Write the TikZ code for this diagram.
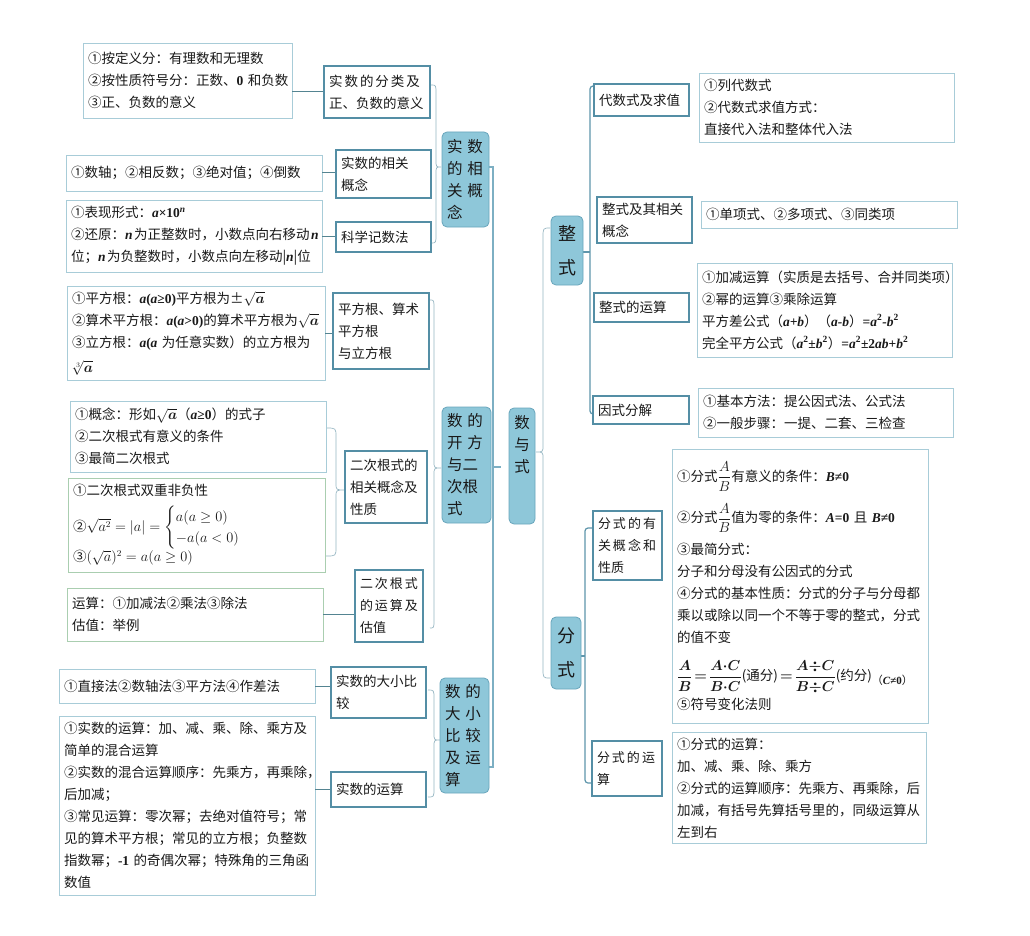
\documentclass[tikz,border=0pt]{standalone}
\usepackage{amsmath}
\usepackage[no-math]{fontspec}
\setmainfont{Noto Sans CJK SC}
\newfontfamily\tnr{Liberation Serif}
\newcommand\bi[1]{{\tnr\bfseries\itshape #1}}
\newcommand\bn[1]{{\tnr\bfseries #1}}
\newcommand\xg{\kern2pt\relax}
\newcommand\wg{\kern5pt\relax}
\newcommand\nsp{\kern1.5pt\relax}
\definecolor{catf}{RGB}{142,199,217}
\definecolor{catd}{RGB}{105,165,188}
\definecolor{subc}{RGB}{84,142,165}
\definecolor{leafc}{RGB}{168,204,216}
\definecolor{leafgc}{RGB}{170,206,176}
\definecolor{connc}{RGB}{84,132,145}
\definecolor{brcc}{RGB}{150,182,194}
\definecolor{trunkc}{RGB}{125,175,195}
\definecolor{rtc}{RGB}{95,150,172}
\definecolor{txt}{RGB}{25,25,25}
\tikzset{
  leaf/.style={draw=leafc, line width=0.8pt, fill=white, inner sep=5pt, align=left, text=txt, font=\fontsize{13.5}{22}\selectfont},
  leafg/.style={leaf, draw=leafgc},
  subn/.style={draw=subc, line width=1.4pt, fill=white, inner sep=5pt, align=left, text=txt, font=\fontsize{13.5}{22}\selectfont},
  subs/.style={subn, font=\fontsize{13}{22}\selectfont},
  cat/.style={draw=catd, fill=catf, line width=0.8pt, rounded corners=5pt, inner sep=5pt, align=left, text=txt, font=\fontsize{15.5}{22}\selectfont},
  catc/.style={cat, align=center},
  catb/.style={cat, align=center, font=\fontsize{18}{34}\selectfont},
  conn/.style={draw=connc, line width=1pt},
  brc/.style={draw=brcc, line width=0.7pt},
  trunk/.style={draw=trunkc, line width=2pt},
  rtrunk/.style={draw=rtc, line width=1.2pt, rounded corners=3pt},
}
% box: [style]{name}{x1}{y1}{x2}{y2}{text}
\newcommand\mkbox[7][leaf]{%
  \pgfmathsetmacro\bxw{#5-#3}\pgfmathsetmacro\bxh{#6-#4}%
  \pgfmathsetmacro\bxx{(#3+#5)/2}\pgfmathsetmacro\bxy{(#4+#6)/2}%
  \pgfmathsetmacro\bxt{#5-#3-10}%
  \node[#1, minimum width=\bxw pt, minimum height=\bxh pt, text width=\bxt pt] (#2) at (\bxx,\bxy) {#7};}
% brace: {xend}{xmid}{xtip}{ytop}{ytip}{ybot}
\newcommand\mybrace[6]{%
  \draw[brc] (#1,#4) .. controls (#2,#4) and (#2,#4) .. (#2,{#4+9}) -- (#2,{#5-7})
    .. controls (#2,#5) and (#2,#5) .. (#3,#5)
    .. controls (#2,#5) and (#2,#5) .. (#2,{#5+7}) -- (#2,{#6-9})
    .. controls (#2,#6) and (#2,#6) .. (#1,#6);}
\begin{document}
\begin{tikzpicture}[x=1pt,y=-1pt]
\fill[white] (0,0) rectangle (1030,936);
\useasboundingbox (0,0) rectangle (1030,936);

% ---------- left side: connectors first (behind) ----------
\draw[trunk] (489,167) -- (493,167) -- (493,767) -- (489,767);
\draw[trunk] (493,467) -- (501,467);

\mybrace{431}{436}{441}{85}{167}{243}
\mybrace{430}{434}{441}{300}{468}{628}
\mybrace{428}{434}{440}{690}{740}{797}
\mybrace{326}{336}{345}{428}{490}{556}

% center
\mkbox[catc]{M}{509}{408}{535}{524}{数\\与\\式\\\mbox{}\\\mbox{}}

% categories left
\mkbox[cat]{C1}{442}{132}{489}{227}{实\wg 数\\的\wg 相\\关\wg 概\\念}
\mkbox[cat]{C2}{442}{407}{491}{523}{数\wg 的\\开\wg 方\\与二\\次根\\式}
\mkbox[cat]{C3}{440}{678}{489}{793}{数\wg 的\\大\wg 小\\比\wg 较\\及\wg 运\\算}

% left sub nodes
\mkbox[subn]{S1}{324}{66}{430}{118}{实\xg 数\xg 的\xg 分\xg 类\xg 及\\正、负数的意义}
\mkbox[subn]{S2}{336}{150}{431}{198}{实数的相关\\概念}
\mkbox[subn]{S3}{336}{222}{431}{252}{科学记数法}
\mkbox[subn]{S4}{333}{293}{429}{369}{平方根、算术\\平方根\\与立方根}
\mkbox[subn]{S5}{345}{451}{427}{523}{二次根式的\\相关概念及\\性质}
\mkbox[subs]{S6}{355}{570}{423}{642}{二\xg 次\xg 根\xg 式\\的\xg 运\xg 算\xg 及\\估值}
\mkbox[subn]{S7}{331}{667}{426}{718}{实数的大小比\\较}
\mkbox[subn]{S8}{331}{772}{426}{807}{实数的运算}

% left leaves
\mkbox{L1}{83}{43}{292}{118}{①按定义分：有理数和无理数\\②按性质符号分：正数、\bn{0}~和负数\\③正、负数的意义}
\mkbox{L2}{66}{155}{322}{191}{①数轴；②相反数；③绝对值；④倒数}
\mkbox{L3}{66}{200}{322}{272}{①表现形式：\bi{a}\bn{×10}\textsuperscript{\bi{n}}\\\mbox{②还原：\bi{n}\nsp 为正整数时，小数点向右移动\nsp\bi{n}}\\\mbox{位；\bi{n}\nsp 为负整数时，小数点向左移动|\bi{n}|位}}
\mkbox{L4}{67}{288}{325}{379}{①平方根：\bi{a}\bn{(}\bi{a}\bn{≥0)}平方根为±$\sqrt{\boldsymbol{a}}$\\②算术平方根：\bi{a}\bn{(}\bi{a}\bn{>0)}的算术平方根为$\sqrt{\boldsymbol{a}}$\\\mbox{③立方根：\bi{a}\bn{(}\bi{a}~为任意实数）的立方根为}\\[3pt]$\sqrt[3]{\boldsymbol{a}}$}
\mkbox{L5}{70}{401}{326}{472}{①概念：形如$\sqrt{\boldsymbol{a}}$（\bi{a}\bn{≥0}）的式子\\②二次根式有意义的条件\\③最简二次根式}
\mkbox[leafg]{L6}{68}{478}{325}{572}{①二次根式双重非负性\\[8pt]\mbox{\fontsize{13.5}{18}\selectfont②$\sqrt{a^2}=|a|=\begin{cases}a(a\geq 0)\\-a(a<0)\end{cases}$}\\[0pt]③$(\sqrt{a})^2=a(a\geq 0)$}
\mkbox[leafg]{L7}{67}{588}{323}{641}{运算：①加减法②乘法③除法\\估值：举例}
\mkbox{L8}{59}{669}{315}{703}{①直接法②数轴法③平方法④作差法}
\mkbox{L9}{59}{716}{315}{895}{①实数的运算：加、减、乘、除、乘方及\\简单的混合运算\\②实数的混合运算顺序：先乘方，再乘除，\\后加减；\\③常见运算：零次幂；去绝对值符号；常\\见的算术平方根；常见的立方根；负整数\\\mbox{指数幂；\bn{-1}~的奇偶次幂；特殊角的三角函}\\数值}

% left connectors
\draw[conn] (S1.west) -- (S1.west -| L1.east);
\draw[conn] (L2.east) -- (L2.east -| S2.west);
\draw[conn] (L3.east) -- (L3.east -| S3.west);
\draw[conn] (L4.east) -- (L4.east -| S4.west);
\draw[conn] (L7.east) -- (L7.east -| S6.west);
\draw[conn] (L8.east) -- (L8.east -| S7.west);
\draw[conn] (S8.west) -- (S8.west -| L9.east);

% ---------- right side ----------
\draw[brc] (550,228) .. controls (543,228) and (543,228) .. (543,238) -- (543,445)
  .. controls (543,452) and (543,452) .. (536,452)
  .. controls (543,452) and (543,452) .. (543,459) -- (543,668)
  .. controls (543,678) and (543,678) .. (550,678);

\draw[rtrunk] (595,86) -- (590,86) -- (590,414) -- (594,414);
\draw[rtrunk] (583,252) -- (590,252);
\draw[rtrunk] (594,528) -- (585,528) -- (585,783) -- (593,783);
\draw[rtrunk] (581,656) -- (585,656);

\mkbox[catb]{Z}{551}{216}{583}{285}{整\\式}
\mkbox[catb]{F}{551}{617}{581}{689}{分\\式}

\mkbox[subn]{T1}{594}{84}{689}{116}{代数式及求值}
\mkbox[subn]{T2}{597}{197}{692}{243}{整式及其相关\\概念}
\mkbox[subn]{T3}{594}{293}{689}{322}{整式的运算}
\mkbox[subn]{T4}{593}{396}{689}{424}{因式分解}
\mkbox[subs]{F1}{593}{511}{662}{580}{分\xg 式\xg 的\xg 有\\关\xg 概\xg 念\xg 和\\性质}
\mkbox[subs]{F2}{592}{741}{662}{796}{分\xg 式\xg 的\xg 运\\算}

\mkbox{R1}{699}{73}{954}{142}{①列代数式\\②代数式求值方式：\\直接代入法和整体代入法}
\mkbox{R2}{701}{201}{957}{228}{①单项式、②多项式、③同类项}
\mkbox{R3}{697}{263}{952}{357}{\mbox{①加减运算（实质是去括号、合并同类项）}\\②幂的运算③乘除运算\\\mbox{平方差公式（\bi{a+b}）（\bi{a-b}）\bn{=}\bi{a}\textsuperscript{\bn{2}}\bi{-b}\textsuperscript{\bn{2}}}\\\mbox{完全平方公式（\bi{a}\textsuperscript{\bn{2}}\bn{±}\bi{b}\textsuperscript{\bn{2}}）\bn{=}\bi{a}\textsuperscript{\bn{2}}\bn{±2}\bi{ab}\bn{+}\bi{b}\textsuperscript{\bn{2}}}}
\mkbox{R4}{698}{388}{953}{437}{①基本方法：提公因式法、公式法\\②一般步骤：一提、二套、三检查}
\mkbox{R5}{672}{449}{928}{723}{①分式$\dfrac{A}{B}$有意义的条件：\bi{B}\bn{≠0}\\[11pt]\mbox{②分式$\dfrac{A}{B}$值为零的条件：\bi{A}\bn{=0}~且~\bi{B}\bn{≠0}}\\[10pt]③最简分式：\\分子和分母没有公因式的分式\\④分式的基本性质：分式的分子与分母都\\乘以或除以同一个不等于零的整式，分式\\的值不变\\[16pt]\mbox{{\boldmath$\dfrac{A}{B}\!=\!\dfrac{A{\cdot}C}{B{\cdot}C}$}(通分)\,{\boldmath$=\!\dfrac{A{\div}C}{B{\div}C}$}(约分)\raisebox{-4pt}{\fontsize{11}{11}\selectfont（\bi{C}\bn{≠0}）}}\\[3pt]⑤符号变化法则}
\mkbox{R6}{672}{733}{926}{843}{①分式的运算：\\加、减、乘、除、乘方\\②分式的运算顺序：先乘方、再乘除，后\\加减，有括号先算括号里的，同级运算从\\左到右}
\end{tikzpicture}
\end{document}
